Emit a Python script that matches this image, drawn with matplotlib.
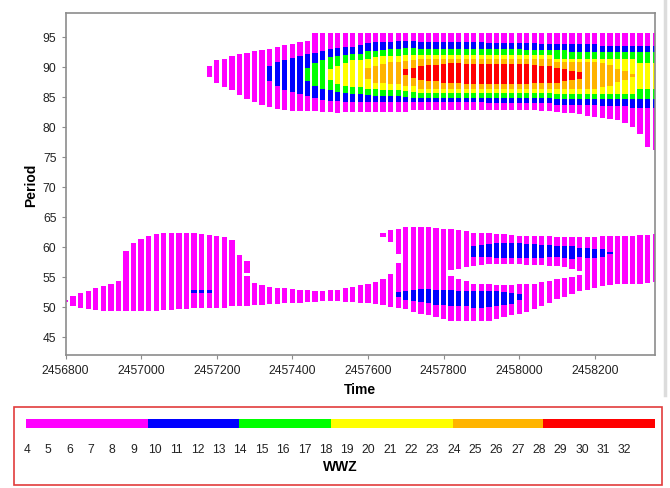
import numpy as np
import matplotlib
matplotlib.use('Agg')
import matplotlib.pyplot as plt
from matplotlib.patches import Rectangle
from matplotlib.lines import Line2D

plt.rcParams['font.family'] = ['Liberation Sans', 'DejaVu Sans']

# time grid of the WWZ columns (step 20 days)
time = np.arange(2456800, 2458361, 20)

# WWZ level colours and colour bar bounds
level_colors = ['#ff00ff', '#0000ff', '#00ff00', '#ffff00', '#ffb400', '#ff0000']
level_bounds = [3.95, 9.67, 13.95, 18.24, 23.96, 28.2, 33.4]
wwz_ticks = list(range(4, 33))

# ---- upper structure (period ~ 76-96) ----
up_mag_cols = list(range(19, 79))
up_mag_hi = [90.2, 91.1, 91.4, 91.9, 92.2, 92.4, 92.7, 92.8, 93.0, 93.4, 93.6, 93.8, 94.1, 94.3] + [95.7]*46
up_mag_lo = ([88.4, 87.4, 86.7, 86.1, 85.4, 84.7, 84.1, 83.7, 83.4, 83.0, 82.8, 82.7, 82.6, 82.6, 82.6, 82.5, 82.5, 82.4]
             + [82.5]*9 + [82.9]*17
             + [82.7, 82.6, 82.5, 82.4, 82.3, 82.1, 81.9, 81.7, 81.5, 81.3, 81.1, 80.7, 80.0, 78.8, 76.6, 76.1])

up_blue_cols = list(range(27, 79))
up_blue_hi = ([90.1, 90.8, 91.2, 91.5, 91.9, 92.2, 92.4, 92.7, 93.0, 93.2, 93.3, 93.4, 93.6, 94.0, 94.1, 94.2, 94.2, 94.3, 94.3, 94.3]
              + [94.2]*9 + [94.0]*7 + [93.8]*8 + [93.5]*8)
up_blue_lo = ([87.7, 86.9, 86.2, 85.9, 85.5, 85.1, 84.8, 84.5, 84.4, 84.3, 84.2]
              + [84.1]*18 + [84.0]*9 + [83.7]*6 + [83.5]*4 + [83.2]*4)

up_green_cols = list(range(32, 79))
up_green_hi = ([89.9, 90.7, 91.2, 91.6, 91.9, 92.0, 92.2, 92.2, 92.6, 92.7, 92.9, 93.0, 93.0, 93.1, 93.1]
               + [93.0]*14 + [92.8]*6 + [92.5]*12)
up_green_lo = ([87.7, 86.9, 86.3, 86.1, 85.9, 85.7, 85.5, 85.5, 85.3, 85.2, 85.2, 85.1, 85.1, 85.0, 84.9]
               + [84.9]*18 + [84.7]*14)

up_yellow_cols = list(range(35, 79))
up_yellow_hi = ([89.7, 90.2, 90.7, 91.1, 91.1, 91.4, 91.6, 91.8, 91.9, 91.9, 92.0, 92.0]
                + [92.0]*18 + [91.3]*11 + [90.6]*3)
up_yellow_lo = ([87.9, 87.2, 86.9, 86.6, 86.6, 86.3, 86.3, 86.2, 86.1, 86.1, 86.0, 85.8]
                + [85.7]*18 + [85.5]*11 + [86.3]*3)

up_orange_cols = list(range(40, 76))
up_orange_hi = [89.9, 90.2, 90.5, 90.8, 90.9, 91.0, 91.2] + [91.3]*18 + [90.8]*6 + [90.6, 90.3, 89.7, 89.4, 88.8]
up_orange_lo = [88.0, 87.4, 87.3, 87.2, 87.2, 86.9, 86.9] + [86.3]*18 + [86.3]*6 + [86.6, 86.9, 87.5, 87.8, 88.3]

up_red_cols = list(range(45, 69))
up_red_hi = [89.7, 89.9, 90.1, 90.3, 90.4, 90.5, 90.6, 90.6] + [90.5]*9 + [90.3, 90.2, 90.1, 89.9, 89.7, 89.4, 89.1]
up_red_lo = [88.6, 88.2, 87.9, 87.7, 87.6, 87.4, 87.4, 87.3] + [87.2]*9 + [87.3, 87.4, 87.4, 87.4, 87.7, 87.9, 88.0]

# ---- lower structure (period ~ 47-64) ----
low_cols = list(range(0, 79))
low_lo = [50.9, 50.1, 49.8, 49.7, 49.5, 49.4, 49.4, 49.4, 49.4, 49.4,
          49.4, 49.4, 49.4, 49.5, 49.5, 49.7, 49.7, 49.8, 49.8, 49.9,
          49.9, 49.9, 50.1, 50.1, 50.2, 50.3, 50.4, 50.5, 50.5, 50.6,
          50.6, 50.7, 50.8, 50.9, 51.0, 51.0, 51.0, 50.9, 50.8, 50.7,
          50.7, 50.5, 50.3, 50.0, 49.9, 49.6, 49.1, 48.8, 48.6, 48.3,
          48.0, 47.7, 47.6, 47.6, 47.6, 47.6, 47.7, 48.0, 48.3, 48.6,
          48.8, 49.1, 49.6, 50.1, 50.6, 51.3, 51.6, 52.1, 52.7, 52.9,
          53.2, 53.5, 53.6, 53.8, 53.8, 53.8, 53.8, 54.0, 54.1]
low_hi = [51.2, 51.9, 52.3, 52.7, 53.2, 53.5, 53.9, 54.4, 59.4, 60.6,
          61.3, 61.8, 62.2, 62.3, 62.4, 62.4, 62.4, 62.3, 62.2, 62.0,
          61.8, 61.6, 61.2, 58.7, 55.1, 54.0, 53.7, 53.4, 53.2, 53.1,
          53.0, 52.8, 52.8, 52.7, 52.7, 52.8, 52.9, 53.1, 53.4, 53.6,
          53.8, 54.1, 54.7, 55.5, 57.4, 63.3, 63.3, 63.4, 63.3, 63.1,
          63.0, 55.2, 54.7, 54.4, 53.9, 53.9, 53.8, 53.7, 53.7, 53.7,
          53.8, 53.8, 53.9, 54.1, 54.4, 54.6, 54.8, 55.0, 55.4, 61.6,
          61.7, 61.8, 61.8, 61.8, 61.9, 61.9, 62.0, 62.0, 62.2]

# pieces above the gaps
split_cols = [24, 42, 43, 44] + list(range(51, 69))
split_lo = [55.6, 61.6, 60.9, 58.8, 56.1, 56.4, 56.6, 56.9, 57.0, 57.2, 57.2, 57.2, 57.2, 57.2,
            57.0, 57.0, 57.0, 56.9, 56.9, 56.6, 56.4, 56.0]
split_hi = [57.6, 62.3, 62.8, 63.0, 63.0, 62.8, 62.6, 62.4, 62.4, 62.3, 62.2, 62.2, 62.0, 61.9,
            61.9, 61.8, 61.8, 61.8, 61.6, 61.6, 61.6, 61.6]

# blue bands of the lower structure
lb_cols = [17, 18, 19] + list(range(44, 61))
lb_lo = [52.4, 52.4, 52.4, 51.7, 51.2, 51.0, 50.9, 50.6, 50.4, 50.3, 50.2, 50.2, 50.1, 49.9,
         49.9, 50.0, 50.2, 50.3, 50.5, 51.1]
lb_hi = [52.8, 52.8, 52.8, 52.5, 52.7, 52.9, 53.0, 53.0, 52.9, 52.9, 52.8, 52.7, 52.7, 52.7,
         52.6, 52.6, 52.6, 52.5, 52.4, 52.2]

ub_cols = list(range(54, 73))
ub_lo = [58.4, 58.4, 58.3, 58.2, 58.1, 58.1, 58.1, 58.1, 58.1, 58.1, 58.3, 58.3, 58.1, 58.0,
         58.3, 58.1, 58.2, 58.4, 58.8]
ub_hi = [60.1, 60.3, 60.5, 60.6, 60.7, 60.7, 60.6, 60.5, 60.5, 60.4, 60.4, 60.2, 60.2, 60.1,
         59.9, 59.8, 59.7, 59.6, 59.1]


fig = plt.figure(figsize=(6.7, 4.89), dpi=100)
ax = fig.add_axes([0.0978, 0.2726, 0.8802, 0.6988])


def draw(cols, lo, hi, color):
    lo = np.array(lo)
    hi = np.array(hi)
    ax.bar(time[cols], hi - lo, bottom=lo, width=14, color=color, linewidth=0)


draw(up_mag_cols, up_mag_lo, up_mag_hi, level_colors[0])
draw(up_blue_cols, up_blue_lo, up_blue_hi, level_colors[1])
draw(up_green_cols, up_green_lo, up_green_hi, level_colors[2])
draw(up_yellow_cols, up_yellow_lo, up_yellow_hi, level_colors[3])
draw(up_orange_cols, up_orange_lo, up_orange_hi, level_colors[4])
draw(up_red_cols, up_red_lo, up_red_hi, level_colors[5])

draw(low_cols, low_lo, low_hi, level_colors[0])
draw(split_cols, split_lo, split_hi, level_colors[0])
draw(lb_cols, lb_lo, lb_hi, level_colors[1])
draw(ub_cols, ub_lo, ub_hi, level_colors[1])

ax.set_xlim(2456800, 2458360)
ax.set_ylim(42.05, 99)
ax.set_xticks(np.arange(2456800, 2458201, 200))
ax.set_yticks(np.arange(45, 96, 5))
ax.xaxis.set_major_formatter(plt.FuncFormatter(lambda v, p: '%d' % v))
for s in ax.spines.values():
    s.set_color('#8c8c8c')
    s.set_linewidth(1.2)
ax.tick_params(axis='both', colors='#8c8c8c', labelcolor='#222222', labelsize=8.7, length=3, width=0.8)
ax.tick_params(axis='x', pad=4)
ax.set_xlabel('Time', fontsize=10, fontweight='bold', labelpad=4)
ax.set_ylabel('Period', fontsize=10, fontweight='bold', labelpad=3)

# panel edge at the right
fig.add_artist(Line2D([0.992, 0.992], [0.19, 1.0], transform=fig.transFigure, color='#dcdcdc', lw=2.5))

# colour bar legend in a red box
fig.add_artist(Rectangle((0.0209, 0.0061), 0.967, 0.1595, transform=fig.transFigure,
                         fill=False, edgecolor='#e23c3c', linewidth=1.2))
cax = fig.add_axes([0.0384, 0.1227, 0.9385, 0.0184])
widths = np.diff(level_bounds)
cax.barh(0, widths, left=level_bounds[:-1], height=1, color=level_colors, linewidth=0)
cax.set_xlim(level_bounds[0], level_bounds[-1])
cax.set_ylim(-0.5, 0.5)
cax.set_yticks([])
cax.set_xticks(wwz_ticks)
for s in cax.spines.values():
    s.set_visible(False)
cax.tick_params(axis='x', length=0, pad=11, labelsize=8.7, labelcolor='#222222')
cax.set_xlabel('WWZ', fontsize=10, fontweight='bold', labelpad=3)

fig.savefig('out.png', dpi=100)
